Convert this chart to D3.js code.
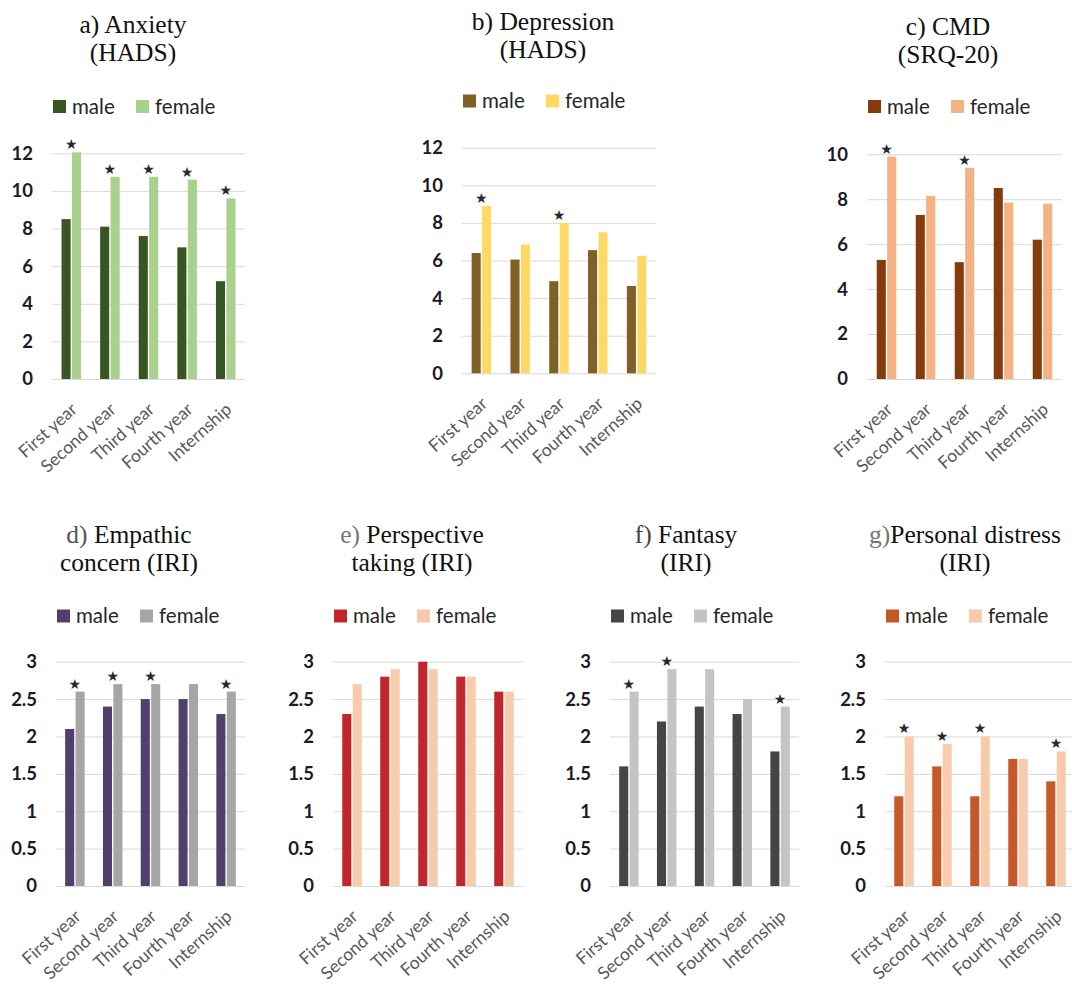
<!DOCTYPE html>
<html>
<head>
<meta charset="utf-8">
<script src="https://cdn.jsdelivr.net/npm/d3@7"></script>
<style>
  body { margin: 0; background: #fff; }
  svg { display: block; }
</style>
</head>
<body>
<div id="chart"></div>
<script>
const categories = ["First year", "Second year", "Third year", "Fourth year", "Internship"];
const seriesNames = ["male", "female"];

const anxietyMale = [8.5, 8.1, 7.6, 7.0, 5.2];
const anxietyFemale = [12.05, 10.75, 10.75, 10.6, 9.6];
const anxietyStars = [1, 1, 1, 1, 1];

const depressionMale = [6.4, 6.05, 4.9, 6.55, 4.65];
const depressionFemale = [8.9, 6.85, 8.0, 7.5, 6.25];
const depressionStars = [1, 0, 1, 0, 0];

const cmdMale = [5.3, 7.3, 5.2, 8.5, 6.2];
const cmdFemale = [9.9, 8.15, 9.4, 7.85, 7.8];
const cmdStars = [1, 0, 1, 0, 0];

const empathicMale = [2.1, 2.4, 2.5, 2.5, 2.3];
const empathicFemale = [2.6, 2.7, 2.7, 2.7, 2.6];
const empathicStars = [1, 1, 1, 0, 1];

const perspectiveMale = [2.3, 2.8, 3.0, 2.8, 2.6];
const perspectiveFemale = [2.7, 2.9, 2.9, 2.8, 2.6];
const perspectiveStars = [0, 0, 0, 0, 0];

const fantasyMale = [1.6, 2.2, 2.4, 2.3, 1.8];
const fantasyFemale = [2.6, 2.9, 2.9, 2.5, 2.4];
const fantasyStars = [1, 1, 0, 0, 1];

const distressMale = [1.2, 1.6, 1.2, 1.7, 1.4];
const distressFemale = [2.0, 1.9, 2.0, 1.7, 1.8];
const distressStars = [1, 1, 1, 0, 1];

const hadsTicks = [0, 2, 4, 6, 8, 10, 12];
const srqTicks = [0, 2, 4, 6, 8, 10];
const iriTicks = [0, 0.5, 1, 1.5, 2, 2.5, 3];

const WIDTH = 1072;
const HEIGHT = 986;

const panels = [
  { prefix: "a)", title: ["Anxiety", "(HADS)"], male: anxietyMale, female: anxietyFemale, stars: anxietyStars,
    ticks: hadsTicks, colors: ["#375623", "#a9d18e"],
    x0: 52, x1: 245, yTop: 153.3, yBottom: 379, titleX: 133, titleY: 33, legendY: 106.5, prefixFill: "#111" },
  { prefix: "b)", title: ["Depression", "(HADS)"], male: depressionMale, female: depressionFemale, stars: depressionStars,
    ticks: hadsTicks, colors: ["#7f6027", "#ffd966"],
    x0: 462, x1: 656, yTop: 147.7, yBottom: 373.3, titleX: 543, titleY: 30, legendY: 101, prefixFill: "#111" },
  { prefix: "c)", title: ["CMD", "(SRQ-20)"], male: cmdMale, female: cmdFemale, stars: cmdStars,
    ticks: srqTicks, colors: ["#843c0c", "#f4b183"],
    x0: 867, x1: 1062, yTop: 154.3, yBottom: 379, titleX: 948, titleY: 35, legendY: 106.5, prefixFill: "#111" },
  { prefix: "d)", title: ["Empathic", "concern (IRI)"], male: empathicMale, female: empathicFemale, stars: empathicStars,
    ticks: iriTicks, colors: ["#51406e", "#a6a6a6"],
    x0: 56, x1: 245, yTop: 661.7, yBottom: 886, titleX: 129, titleY: 543, legendY: 616, prefixFill: "#555" },
  { prefix: "e)", title: ["Perspective", "taking (IRI)"], male: perspectiveMale, female: perspectiveFemale, stars: perspectiveStars,
    ticks: iriTicks, colors: ["#c0262b", "#f8cbad"],
    x0: 333, x1: 523, yTop: 661.7, yBottom: 886, titleX: 412, titleY: 543, legendY: 616, prefixFill: "#777" },
  { prefix: "f)", title: ["Fantasy", "(IRI)"], male: fantasyMale, female: fantasyFemale, stars: fantasyStars,
    ticks: iriTicks, colors: ["#454545", "#c4c4c4"],
    x0: 610, x1: 799, yTop: 661.7, yBottom: 886, titleX: 686, titleY: 543, legendY: 616, prefixFill: "#444" },
  { prefix: "g)", title: ["Personal distress", "(IRI)"], male: distressMale, female: distressFemale, stars: distressStars,
    ticks: iriTicks, colors: ["#c55a28", "#f8cbad"],
    x0: 885, x1: 1075, yTop: 661.7, yBottom: 886, titleX: 965, titleY: 543, legendY: 616, prefixFill: "#777", noSpace: true }
];

const svg = d3.select("#chart")
  .append("svg")
  .attr("width", WIDTH)
  .attr("height", HEIGHT)
  .attr("viewBox", `0 0 ${WIDTH} ${HEIGHT}`);

svg.append("rect").attr("width", WIDTH).attr("height", HEIGHT).attr("fill", "#fff");

const PAIR_WIDTH = 19.5;

function drawPanel(panel) {
  const g = svg.append("g").attr("class", "panel");

  const x = d3.scaleBand().domain(categories).range([panel.x0, panel.x1]);
  const inner = d3.scaleBand().domain(seriesNames).range([0, PAIR_WIDTH]).paddingInner(0.13);
  const y = d3.scaleLinear()
    .domain([0, d3.max(panel.ticks)])
    .range([panel.yBottom, panel.yTop]);

  // title, two lines
  const title = g.append("text")
    .attr("text-anchor", "middle")
    .attr("font-family", "'Liberation Serif', 'Times New Roman', serif")
    .attr("font-size", 25.5)
    .attr("fill", "#111");

  const line1 = title.append("tspan").attr("x", panel.titleX).attr("y", panel.titleY);
  line1.append("tspan").attr("fill", panel.prefixFill).text(panel.prefix + (panel.noSpace ? "" : " "));
  line1.append("tspan").text(panel.title[0]);
  title.append("tspan").attr("x", panel.titleX).attr("y", panel.titleY + 28).text(panel.title[1]);

  // legend
  const legend = g.append("g")
    .selectAll("g")
    .data(seriesNames)
    .join("g")
    .attr("transform", (d, i) => `translate(${panel.x0 + 1 + i * 83},${panel.legendY})`);

  legend.append("rect")
    .attr("x", 0)
    .attr("y", -6.5)
    .attr("width", 13)
    .attr("height", 13)
    .attr("fill", (d, i) => panel.colors[i]);

  legend.append("text")
    .attr("x", 19)
    .attr("dy", "0.36em")
    .attr("font-family", "Lato, 'Open Sans', sans-serif")
    .attr("font-size", 20.5)
    .attr("fill", "#262626")
    .text((d) => d);

  // gridlines + y tick labels
  const yAxis = g.append("g")
    .attr("transform", `translate(${panel.x0},0)`)
    .call(
      d3.axisLeft(y)
        .tickValues(panel.ticks)
        .tickSize(-(panel.x1 - panel.x0))
        .tickPadding(19)
        .tickFormat(d3.format("~g"))
    );

  yAxis.select(".domain").remove();
  yAxis.selectAll(".tick line").attr("stroke", "#d9d9d9").attr("stroke-width", 1);
  yAxis.selectAll(".tick text")
    .attr("font-family", "Lato, 'Open Sans', sans-serif")
    .attr("font-size", 18.5)
    .attr("font-weight", 700)
    .attr("fill", "#1a1a26");

  // bars
  const rows = categories.map((c, i) => ({
    category: c,
    values: [panel.male[i], panel.female[i]],
    star: panel.stars[i]
  }));

  const groups = g.append("g")
    .selectAll("g")
    .data(rows)
    .join("g")
    .attr("transform", (d) => `translate(${x(d.category) + x.bandwidth() / 2 - PAIR_WIDTH / 2},0)`);

  groups.selectAll("rect")
    .data((d) => d.values.map((v, i) => ({ key: seriesNames[i], value: v, index: i })))
    .join("rect")
    .attr("x", (d) => inner(d.key))
    .attr("width", inner.bandwidth())
    .attr("y", (d) => y(d.value))
    .attr("height", (d) => y(0) - y(d.value))
    .attr("fill", (d) => panel.colors[d.index]);

  // significance stars
  g.append("g")
    .selectAll("text")
    .data(rows.filter((d) => d.star))
    .join("text")
    .attr("x", (d) => x(d.category) + x.bandwidth() / 2)
    .attr("y", (d) => y(d.values[1]) - 3)
    .attr("text-anchor", "middle")
    .attr("font-family", "'DejaVu Sans', sans-serif")
    .attr("font-size", 14)
    .attr("fill", "#2a2a2a")
    .text("\u2605");

  // category labels
  const xAxis = g.append("g")
    .attr("transform", `translate(0,${panel.yBottom})`)
    .call(d3.axisBottom(x).tickSize(0).tickPadding(0));

  xAxis.select(".domain").remove();
  xAxis.selectAll(".tick text")
    .attr("font-family", "Lato, 'Open Sans', sans-serif")
    .attr("font-size", 17.5)
    .attr("fill", "#595959")
    .attr("text-anchor", "end")
    .attr("dy", null)
    .attr("y", 0)
    .attr("transform", "translate(7,32) rotate(-42)");
}

panels.forEach(drawPanel);
</script>
</body>
</html>
